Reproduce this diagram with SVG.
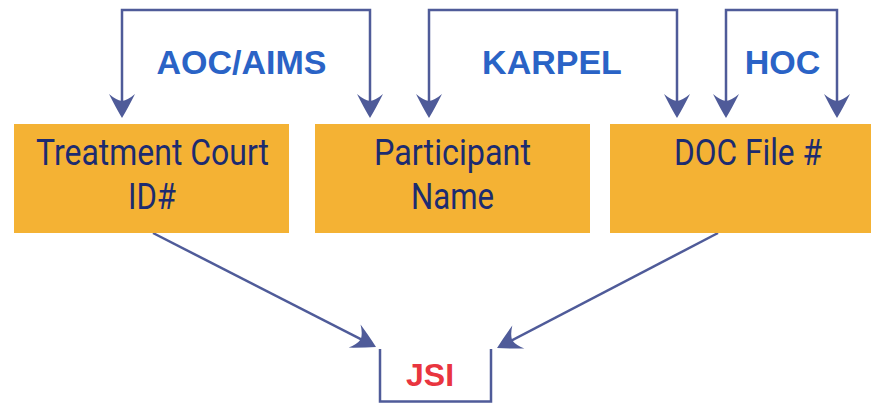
<svg xmlns="http://www.w3.org/2000/svg" width="871" height="403" viewBox="0 0 871 403">
<style>
.box{fill:#f4b234}
.nt{font-family:Roboto,"Liberation Sans",sans-serif;font-size:36px;fill:#1c2b70;text-anchor:middle}
.lbl{font-family:"Liberation Sans",Arial,sans-serif;font-weight:bold;font-size:34px;fill:#2a63c6;text-anchor:middle}
.jsi{font-family:"Liberation Sans",Arial,sans-serif;font-weight:bold;font-size:32px;fill:#e9353f;text-anchor:middle}
.con{fill:none;stroke:#4f5b99;stroke-width:2.5}
</style>
<defs>
<marker id="ah" markerUnits="userSpaceOnUse" viewBox="-16 -14 28 28" refX="0" refY="0" markerWidth="28" markerHeight="28" orient="auto-start-reverse">
<path d="M10,0 Q0,-6 -14,-13 Q-8,-6 -7,0 Q-8,6 -14,13 Q0,6 10,0Z" fill="#4f5b99"/>
</marker>
</defs>
<g id="connectors">
<path class="con" d="M122,108 V10 H370 V108" marker-start="url(#ah)" marker-end="url(#ah)"/>
<path class="con" d="M429,108 V10 H677 V108" marker-start="url(#ah)" marker-end="url(#ah)"/>
<path class="con" d="M726,108 V10 H837 V108" marker-start="url(#ah)" marker-end="url(#ah)"/>
<path class="con" d="M153,233 L367.1,342.4" marker-end="url(#ah)"/>
<path class="con" d="M718,233 L505.9,343.4" marker-end="url(#ah)"/>
</g>
<g id="label-aoc"><text class="lbl" x="241.5" y="74">AOC/AIMS</text></g>
<g id="label-karpel"><text class="lbl" x="552" y="74">KARPEL</text></g>
<g id="label-hoc"><text class="lbl" x="782.5" y="74">HOC</text></g>
<g id="node-treatment">
<rect class="box" x="14" y="124" width="275" height="109"/>
<text class="nt" x="152.5" y="165" textLength="233" lengthAdjust="spacingAndGlyphs">Treatment Court</text>
<text class="nt" x="152" y="209" textLength="48" lengthAdjust="spacingAndGlyphs">ID#</text>
</g>
<g id="node-participant">
<rect class="box" x="315" y="124" width="275" height="109"/>
<text class="nt" x="452.5" y="165" textLength="157" lengthAdjust="spacingAndGlyphs">Participant</text>
<text class="nt" x="452.5" y="209" textLength="83" lengthAdjust="spacingAndGlyphs">Name</text>
</g>
<g id="node-doc">
<rect class="box" x="610" y="124" width="261" height="109"/>
<text class="nt" x="748" y="165" textLength="148" lengthAdjust="spacingAndGlyphs">DOC File #</text>
</g>
<g id="node-jsi">
<path class="con" d="M380,349 V401.5 H491 V349"/>
<text class="jsi" x="430" y="386">JSI</text>
</g>
</svg>
